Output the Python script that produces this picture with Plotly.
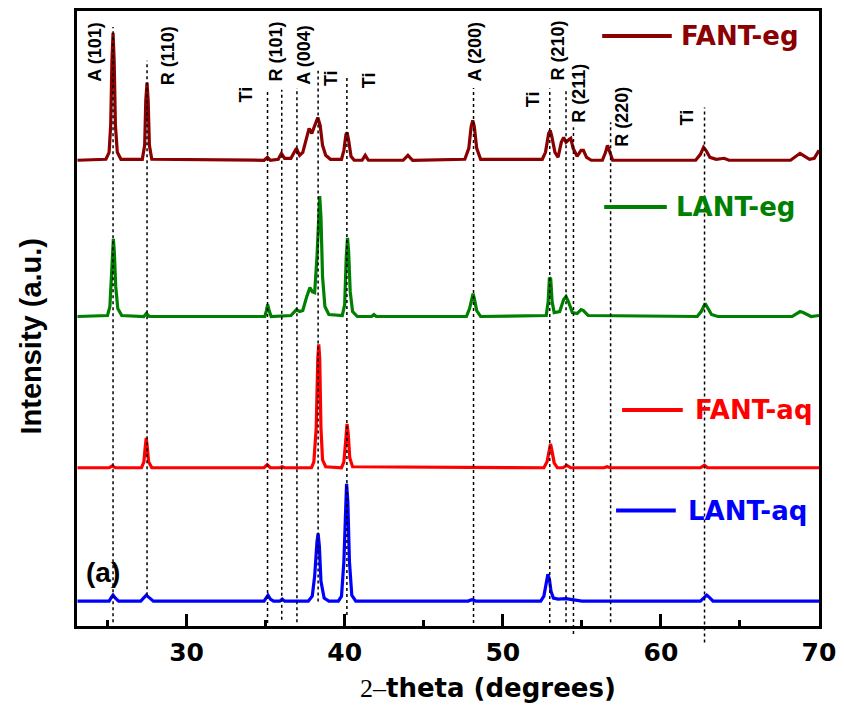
import plotly.graph_objects as go

# ---------------- data (2-theta, intensity a.u. relative to each pattern's baseline) -------------
FANT_eg_x = [23.1, 24.9, 25.1, 25.2, 25.28, 25.35, 25.42, 25.5, 25.62, 25.85,
             27.2, 27.35, 27.42, 27.5, 27.57, 27.65, 27.8,
             34.9, 35.12, 35.3, 35.8, 36.0, 36.2, 36.6, 36.95, 37.15, 37.35, 37.6, 37.75, 37.92,
             38.1, 38.3, 38.45, 38.6, 38.8, 39.1,
             39.8, 39.95, 40.08, 40.15, 40.25, 40.4, 40.6,
             41.1, 41.3, 41.5, 43.7, 44.0, 44.3,
             47.6, 47.85, 48.0, 48.1, 48.2, 48.35, 48.6,
             52.5, 52.7, 52.9, 53.0, 53.1, 53.3, 53.5, 53.7, 53.85, 54.0, 54.2, 54.3, 54.45,
             54.7, 54.95, 55.1, 55.3, 55.6,
             56.3, 56.5, 56.62, 56.75, 56.95,
             62.2, 62.5, 62.7, 62.85, 63.1, 63.5, 64.0, 64.3,
             68.2, 68.6, 68.8, 69.0, 69.4, 69.7, 70.0]
FANT_eg_y = [0, 1, 8, 35, 100, 128, 100, 35, 8, 1,
             1, 15, 60, 78, 60, 15, 1,
             0, 3, 0, 1, 7, 2, 2, 12, 5, 8, 25, 32, 27,
             35, 43, 35, 15, 5, 1,
             1, 10, 26, 28, 20, 4, 0,
             0, 5, 0, 0, 5, 0,
             1, 12, 34, 40, 34, 12, 1,
             1, 8, 27, 30, 24, 8, 3, 18, 23, 18, 21, 22, 12,
             4, 10, 10, 3, 0,
             0, 8, 15, 8, 0,
             0, 6, 13, 10, 3, 1, 2, 0,
             0, 5, 7, 5, 1, 2, 10]

LANT_eg_x = [23.1, 25.0, 25.15, 25.25, 25.32, 25.37, 25.43, 25.52, 25.65, 25.9,
             27.3, 27.45, 27.65,
             34.95, 35.05, 35.13, 35.22, 35.35,
             36.6, 36.95, 37.15, 37.35, 37.6, 37.8, 37.95, 38.1, 38.25, 38.35, 38.42, 38.5, 38.6,
             38.75, 39.0,
             39.85, 40.0, 40.1, 40.18, 40.25, 40.35, 40.5, 40.8,
             41.7, 41.85, 42.0,
             47.7, 47.9, 48.05, 48.12, 48.2, 48.35, 48.6,
             52.75, 52.87, 52.95, 53.03, 53.12, 53.25, 53.6, 53.85, 54.0, 54.15, 54.4, 54.7,
             54.95, 55.1, 55.4,
             62.3, 62.55, 62.8, 62.95, 63.2, 63.6,
             68.3, 68.8, 69.0, 69.5, 70.0]
LANT_eg_y = [0, 1, 10, 45, 70, 78, 65, 30, 8, 1,
             0, 3, 0,
             0, 6, 12, 6, 0,
             1, 7, 5, 6, 20, 29, 25, 24, 60, 110, 121, 100, 40,
             10, 2,
             1, 12, 60, 79, 65, 25, 5, 0,
             0, 2, 0,
             0, 8, 21, 23, 18, 6, 0,
             1, 15, 39, 38, 15, 4, 5, 17, 20, 15, 4, 3,
             7, 6, 1,
             0, 5, 13, 9, 2, 0,
             0, 5, 4, 0, 1]

FANT_aq_x = [23.1, 25.1, 25.3, 25.5,
             27.15, 27.3, 27.38, 27.45, 27.52, 27.6, 27.8,
             34.9, 35.1, 35.3, 35.9, 36.05, 36.2,
             37.9, 38.05, 38.2, 38.3, 38.36, 38.42, 38.5, 38.6, 38.8,
             39.8, 39.95, 40.08, 40.15, 40.22, 40.32, 40.5,
             52.6, 52.8, 52.95, 53.02, 53.1, 53.25, 53.45,
             53.8, 54.05, 54.3,
             56.4, 56.6, 56.8,
             62.5, 62.75, 62.95, 70.0]
FANT_aq_y = [0, 0, 2, 0,
             0, 6, 20, 30, 20, 6, 0,
             0, 3, 0, 0, 1, 0,
             0, 6, 40, 110, 124, 110, 40, 8, 1,
             0, 6, 30, 44, 35, 10, 1,
             0, 6, 22, 24, 18, 5, 0,
             0, 2.5, 0,
             0, 1, 0,
             0, 2.5, 0, 0]

LANT_aq_x = [23.1, 25.1, 25.25, 25.35, 25.5, 25.7,
             27.1, 27.3, 27.45, 27.6, 27.9,
             34.9, 35.05, 35.15, 35.3, 35.5, 35.9, 36.05, 36.2,
             37.7, 37.95, 38.1, 38.25, 38.32, 38.4, 38.5, 38.7, 39.0,
             39.6, 39.8, 39.95, 40.05, 40.12, 40.2, 40.3, 40.45, 40.7,
             47.8, 48.05, 48.3,
             52.4, 52.6, 52.75, 52.85, 52.95, 53.05, 53.2, 53.5, 54.0, 54.5, 55.0,
             62.5, 62.75, 62.9, 63.05, 63.3, 70.0]
LANT_aq_y = [0, 0, 4, 6, 3, 0,
             0, 4, 6, 4, 0,
             0, 4, 6, 2, 0, 0, 2, 0,
             0, 5, 25, 60, 68, 55, 20, 3, 0,
             0, 5, 40, 105, 118, 100, 40, 6, 0,
             0, 1.5, 0,
             0, 5, 20, 27, 22, 10, 3, 2, 2.5, 1.5, 0,
             0, 4, 6, 4, 0, 0]

series_names = ["FANT-eg", "LANT-eg", "FANT-aq", "LANT-aq"]
series_x = [FANT_eg_x, LANT_eg_x, FANT_aq_x, LANT_aq_x]
series_y = [FANT_eg_y, LANT_eg_y, FANT_aq_y, LANT_aq_y]
offsets = [468, 311, 159, 25]
colors = ["#8B0000", "#008000", "#FF0000", "#0000FF"]

# reference reflections: (2theta, top of dotted line, bottom of dotted line) in paper units
ref_lines = [(25.35, 0.974, 0.006), (27.5, 0.919, 0.050), (35.12, 0.872, 0.005),
             (36.02, 0.872, 0.010), (36.98, 0.875, 0.006), (38.32, 0.903, 0.040),
             (40.14, 0.892, 0.018), (48.15, 0.875, 0.005), (52.97, 0.874, 0.005),
             (54.0, 0.871, 0.006), (54.47, 0.811, -0.013), (56.82, 0.819, 0.006),
             (62.76, 0.843, -0.027)]

# peak labels: (text, 2theta of label centre, paper y of centre)
peak_labels = [("A (101)", 24.20, 0.9337), ("R (110)", 28.80, 0.9272), ("Ti", 33.75, 0.8641),
               ("R (101)", 35.64, 0.9337), ("A (004)", 37.42, 0.9288), ("Ti", 39.10, 0.8916),
               ("Ti", 41.51, 0.8867), ("A (200)", 48.22, 0.9337), ("Ti", 51.89, 0.8560),
               ("R (210)", 53.47, 0.9353), ("R (211)", 54.77, 0.8657), ("R (220)", 57.56, 0.8285),
               ("Ti", 61.65, 0.8269)]

# legend placement (line x0, line x1, text x, y) in paper units
legend_pos = [(0.7078, 0.8016, 0.811, 0.9595), (0.7105, 0.7949, 0.8043, 0.6812),
              (0.7346, 0.8164, 0.8298, 0.3511), (0.7265, 0.8070, 0.8204, 0.1877)]

x_ticks = [30, 40, 50, 60, 70]

fig = go.Figure()
for name, xs, ys, off, col in zip(series_names, series_x, series_y, offsets, colors):
    fig.add_trace(go.Scatter(x=xs, y=[v + off for v in ys], mode="lines", name=name,
                             line=dict(color=col, width=3.2), showlegend=False))

shapes = []
for xpos, ytop, ybot in ref_lines:
    shapes.append(dict(type="line", xref="x", yref="paper", x0=xpos, x1=xpos, y0=ybot, y1=ytop,
                       line=dict(color="black", width=1.5, dash="dot"), layer="above"))
annotations = []
for txt, xpos, ypos in peak_labels:
    annotations.append(dict(text="<b>" + txt + "</b>", x=xpos, y=ypos, xref="x", yref="paper",
                            textangle=-90, showarrow=False, xanchor="center", yanchor="middle",
                            font=dict(family="Liberation Sans", size=18, color="black")))
for (x0, x1, xt, yy), name, col in zip(legend_pos, series_names, colors):
    shapes.append(dict(type="line", xref="paper", yref="paper", x0=x0, x1=x1, y0=yy, y1=yy,
                       line=dict(color=col, width=4)))
    annotations.append(dict(text="<b>" + name + "</b>", x=xt, y=yy, xref="paper", yref="paper",
                            showarrow=False, xanchor="left", yanchor="middle",
                            font=dict(family="DejaVu Sans", size=26, color=col)))

annotations.append(dict(text="<b>Intensity (a.u.)</b>", x=-0.0617, y=0.471, xref="paper", yref="paper",
                        textangle=-90, showarrow=False, xanchor="center", yanchor="middle",
                        font=dict(family="Liberation Sans", size=29, color="black")))
annotations.append(dict(text="<span style='font-family:Liberation Serif;font-weight:normal'>2–</span><b>theta (degrees)</b>",
                        x=0.5536, y=-0.1003, xref="paper", yref="paper", showarrow=False,
                        xanchor="center", yanchor="middle",
                        font=dict(family="DejaVu Sans", size=26, color="black")))
annotations.append(dict(text="<b>(a)</b>", x=0.0349, y=0.0874, xref="paper", yref="paper",
                        showarrow=False, xanchor="center", yanchor="middle",
                        font=dict(family="Liberation Sans", size=28, color="black")))

fig.update_layout(
    width=844, height=707,
    margin=dict(l=77, r=21, t=8, b=81),
    paper_bgcolor="white", plot_bgcolor="white",
    shapes=shapes, annotations=annotations,
    xaxis=dict(range=[23.07, 70], tickvals=x_ticks, ticktext=[f"<b>{v}</b>" for v in x_ticks],
               ticks="inside", ticklen=12, tickwidth=3, tickcolor="black",
               minor=dict(ticks="inside", ticklen=6, tickwidth=3, tickcolor="black", dtick=5, tick0=0),
               showline=True, linewidth=3, linecolor="black", mirror=True,
               showgrid=False, zeroline=False, ticklabelstandoff=2,
               tickfont=dict(family="DejaVu Sans", size=25, color="black")),
    yaxis=dict(range=[0, 618], showticklabels=False, ticks="", showline=True, linewidth=3,
               linecolor="black", mirror=True, showgrid=False, zeroline=False),
)

fig.write_html("out.html")
